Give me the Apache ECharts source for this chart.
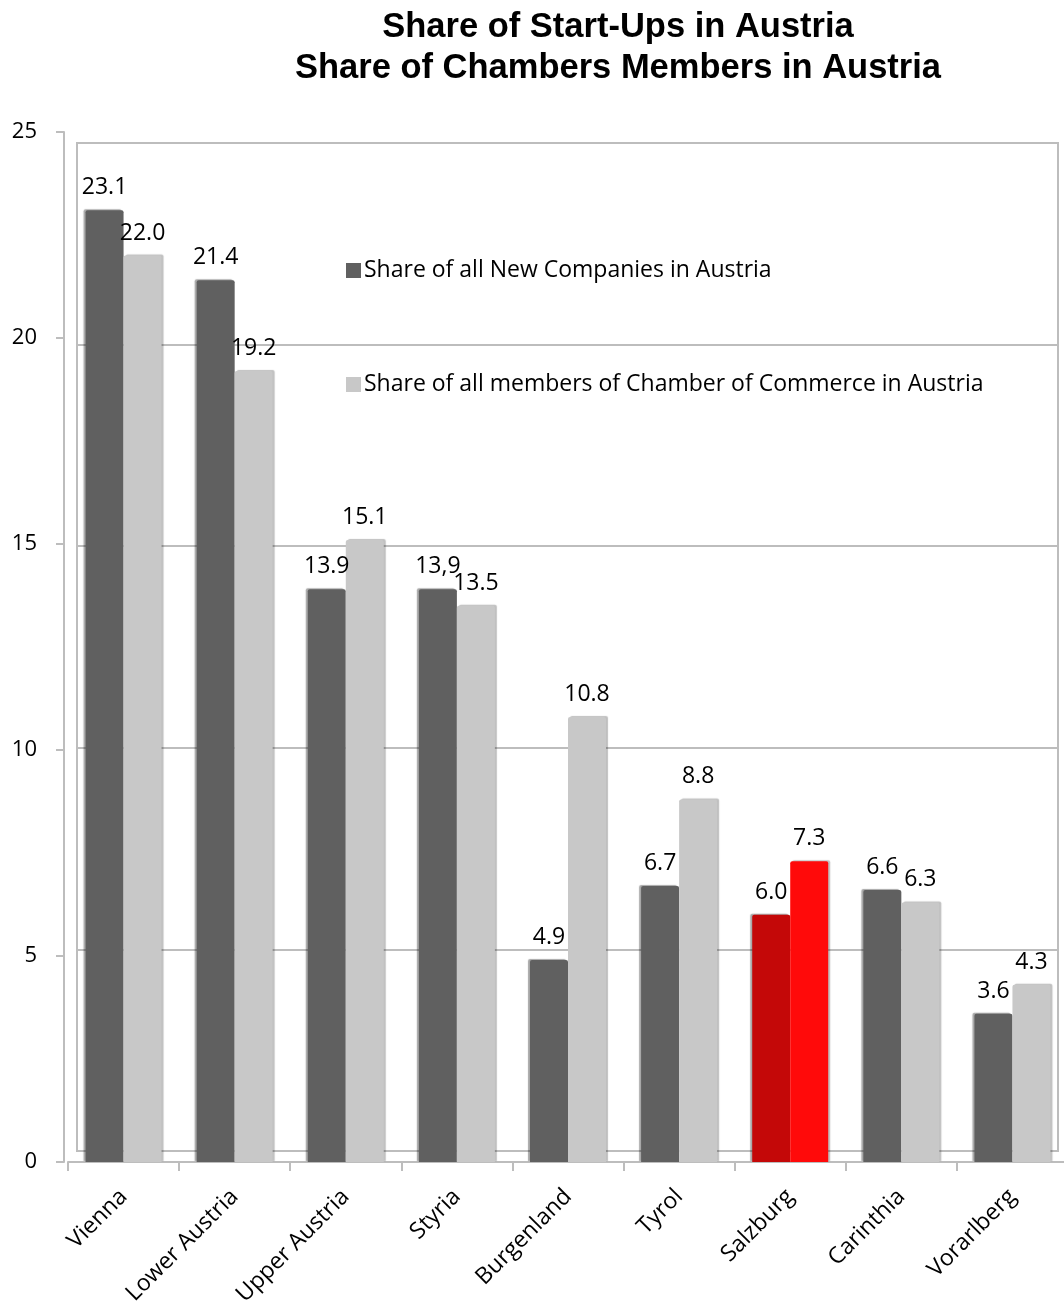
<!DOCTYPE html>
<html>
<head>
<meta charset="utf-8">
<script src="https://cdn.jsdelivr.net/npm/echarts@6/dist/echarts.min.js"></script>
<style>
  html, body { margin: 0; padding: 0; background: #fff; }
  #chart { width: 1064px; height: 1302px; }
</style>
</head>
<body>
<div id="chart"></div>
<script>
// data
const regions = ["Vienna", "Lower Austria", "Upper Austria", "Styria", "Burgenland", "Tyrol", "Salzburg", "Carinthia", "Vorarlberg"];
const newCompanies = [23.1, 21.4, 13.9, 13.9, 4.9, 6.7, 6.0, 6.6, 3.6];
const chamberMembers = [22.0, 19.2, 15.1, 13.5, 10.8, 8.8, 7.3, 6.3, 4.3];
// label texts as printed (Styria uses a comma)
const newCompaniesLabels = ["23.1", "21.4", "13.9", "13,9", "4.9", "6.7", "6.0", "6.6", "3.6"];
const chamberLabels = ["22.0", "19.2", "15.1", "13.5", "10.8", "8.8", "7.3", "6.3", "4.3"];
const highlight = "Salzburg";

const font = "'Open Sans', 'Noto Sans', sans-serif";
const chart = echarts.init(document.getElementById("chart"));

function withHighlight(values, color) {
  return values.map((v, i) =>
    regions[i] === highlight ? { value: v, itemStyle: { color: color } } : v
  );
}

const labelStyle = {
  show: true,
  position: "top",
  distance: 11,
  fontFamily: font,
  fontSize: 23,
  color: "#000",
};

const option = {
  animation: false,
  backgroundColor: "#fff",
  title: {
    text: "Share of Start-Ups in Austria\nShare of Chambers Members in Austria",
    left: 613,
    textAlign: "center",
    top: 2,
    textStyle: {
      fontFamily: "'Liberation Sans', Arial, sans-serif",
      fontWeight: "bold",
      fontSize: 34.5,
      lineHeight: 41,
      color: "#000",
    },
  },
  legend: {
    orient: "vertical",
    left: 341,
    top: 254,
    itemGap: 91,
    itemWidth: 15,
    itemHeight: 15,
    icon: "rect",
    textStyle: { fontFamily: font, fontSize: 23, color: "#000", padding: [0, 0, 0, -2] },
    data: ["Share of all New Companies in Austria", "Share of all members of Chamber of Commerce in Austria"],
  },
  grid: [
    // front plane: axes and bars
    { left: 68, top: 132, width: 1000, bottom: 140, outerBoundsMode: "none", containLabel: false },
    // back wall with gridlines
    { left: 77, top: 143, right: 6, bottom: 151, outerBoundsMode: "none", containLabel: false,
      show: true, borderColor: "#bdbdbd", borderWidth: 2 },
  ],
  xAxis: [
    {
      type: "category",
      gridIndex: 0,
      data: regions,
      axisLine: { lineStyle: { color: "#bdbdbd", width: 2 } },
      axisTick: { show: true, length: 9, lineStyle: { color: "#bdbdbd", width: 2 } },
      axisLabel: {
        rotate: 45,
        margin: 31,
        fontFamily: font,
        fontSize: 23,
        color: "#000",
        interval: 0,
      },
    },
    { type: "value", gridIndex: 1, min: 0, max: 1, show: false },
  ],
  yAxis: [
    {
      type: "value",
      gridIndex: 0,
      offset: 4,
      min: 0,
      max: 25,
      interval: 5,
      axisLine: { show: true, lineStyle: { color: "#bdbdbd", width: 2 } },
      axisTick: { show: true, length: 8, lineStyle: { color: "#bdbdbd", width: 2 } },
      axisLabel: {
        margin: 27,
        fontFamily: font,
        fontSize: 22,
        color: "#000",
      },
      splitLine: { show: false },
    },
    {
      type: "value",
      gridIndex: 1,
      min: 0,
      max: 25,
      interval: 5,
      axisLine: { show: true, lineStyle: { color: "#bdbdbd", width: 2 } },
      axisTick: { show: false },
      axisLabel: { show: false },
      splitLine: { show: true, lineStyle: { color: "#bdbdbd", width: 2 } },
    },
  ],
  series: [
    {
      name: "Share of all New Companies in Austria",
      type: "bar",
      xAxisIndex: 0,
      yAxisIndex: 0,
      barWidth: 38,
      barGap: "0%",
      z: 3,
      data: withHighlight(newCompanies, "#c40808"),
      itemStyle: {
        color: "#606060",
        borderRadius: [2, 2, 0, 0],
        shadowColor: "rgba(0,0,0,0.35)",
        shadowOffsetX: -2,
        shadowOffsetY: -1,
        shadowBlur: 1,
      },
      label: Object.assign({}, labelStyle, { formatter: (p) => newCompaniesLabels[p.dataIndex] }),
    },
    {
      name: "Share of all members of Chamber of Commerce in Austria",
      type: "bar",
      xAxisIndex: 0,
      yAxisIndex: 0,
      barWidth: 38,
      barGap: "0%",
      z: 3,
      data: withHighlight(chamberMembers, "#ff0a0a"),
      itemStyle: {
        color: "#c8c8c8",
        borderRadius: [2, 2, 0, 0],
        shadowColor: "rgba(0,0,0,0.25)",
        shadowOffsetX: 2,
        shadowOffsetY: -1,
        shadowBlur: 1,
      },
      label: Object.assign({}, labelStyle, { formatter: (p) => chamberLabels[p.dataIndex] }),
    },
  ],
};

chart.setOption(option);
</script>
</body>
</html>
